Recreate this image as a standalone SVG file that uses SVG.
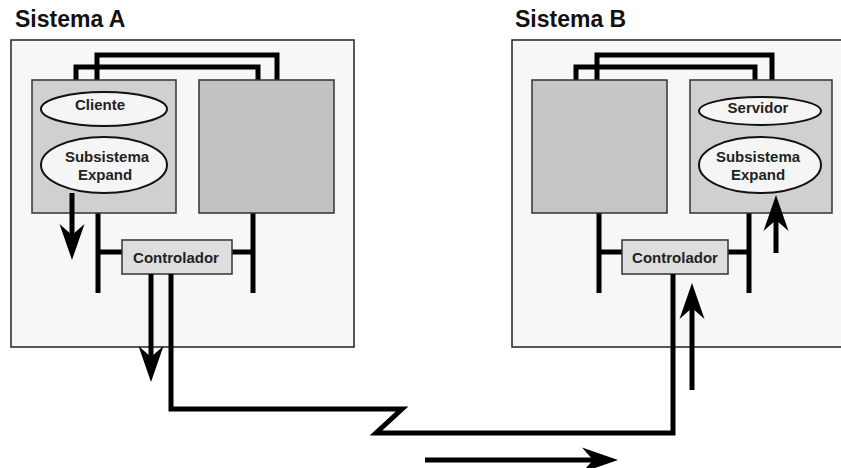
<svg xmlns="http://www.w3.org/2000/svg" width="841" height="468" viewBox="0 0 841 468">
<style>
.title{font-family:"Liberation Sans",Arial,sans-serif;font-weight:bold;font-size:23px;fill:#111}
.lbl{font-family:"Liberation Sans",Arial,sans-serif;font-weight:bold;font-size:15px;fill:#222;text-anchor:middle}
.sys{fill:#f7f7f7;stroke:#222;stroke-width:1.5}
.box{stroke:#333;stroke-width:1.5}
.ell{fill:#f5f5f5;stroke:#111;stroke-width:2}
.ctl{fill:#dedede;stroke:#333;stroke-width:1.5}
.bus{fill:none;stroke:#000;stroke-width:5;stroke-linejoin:miter}
.arr{fill:none;stroke:#000;stroke-width:5;marker-end:url(#ah)}
</style>
<defs>
<marker id="ah" markerUnits="userSpaceOnUse" viewBox="-38 -14 40 28" markerWidth="40" markerHeight="28" refX="-10" refY="0" orient="auto">
<path d="M0,0 L-36,-12.5 L-25,0 L-36,12.5 Z" fill="#000"/>
</marker>
</defs>

<g id="sistemaA">
<text class="title" x="15" y="27">Sistema A</text>
<rect class="sys" x="11" y="40" width="343" height="307"/>
</g>
<g id="sistemaB">
<text class="title" x="515" y="27">Sistema B</text>
<rect class="sys" x="512" y="40" width="340" height="307"/>
</g>

<g id="buses">
<path class="bus" d="M97,80 V55 H277 V80 M76,80 V67 H258 V80"/>
<path class="bus" d="M98,213 V293 M253,213 V293 M98,252 H122 M232,252 H253"/>
<path class="bus" d="M597,80 V55 H772 V80 M576,80 V67 H755 V80"/>
<path class="bus" d="M599,213 V293 M749,213 V293 M599,252 H622 M728,252 H749"/>
</g>

<g id="procA1">
<rect class="box" x="32" y="80" width="144" height="133" fill="#d0d0d0"/>
</g>
<g id="procA2">
<rect class="box" x="199" y="80" width="135" height="133" fill="#c2c2c2"/>
</g>
<g id="cliente">
<ellipse class="ell" cx="104" cy="109" rx="63" ry="17"/>
<text class="lbl" x="100" y="110">Cliente</text>
</g>
<g id="subA">
<ellipse class="ell" cx="104" cy="165" rx="63" ry="28"/>
<text class="lbl" x="107" y="162">Subsistema</text>
<text class="lbl" x="105" y="180">Expand</text>
</g>
<g id="ctlA">
<rect class="ctl" x="122" y="240" width="110" height="34"/>
<text class="lbl" x="176" y="263">Controlador</text>
</g>

<g id="procB1">
<rect class="box" x="532" y="80" width="135" height="133" fill="#c6c6c6"/>
</g>
<g id="procB2">
<rect class="box" x="690" y="80" width="142" height="133" fill="#d0d0d0"/>
</g>
<g id="servidor">
<ellipse class="ell" cx="760" cy="111" rx="61" ry="14"/>
<text class="lbl" x="758" y="113">Servidor</text>
</g>
<g id="subB">
<ellipse class="ell" cx="760" cy="165" rx="61" ry="28"/>
<text class="lbl" x="758" y="162">Subsistema</text>
<text class="lbl" x="758" y="180">Expand</text>
</g>
<g id="ctlB">
<rect class="ctl" x="622" y="240" width="106" height="34"/>
<text class="lbl" x="675" y="263">Controlador</text>
</g>

<g id="connectors">
<path class="bus" d="M171,274 V409 H402 L376,433 H673 V274"/>
<path class="arr" d="M72,193 V250"/>
<path class="arr" d="M151,274 V372"/>
<path class="arr" d="M776,253 V205"/>
<path class="arr" d="M692,390 V293"/>
<path class="arr" d="M425,460 H608"/>
</g>
</svg>
